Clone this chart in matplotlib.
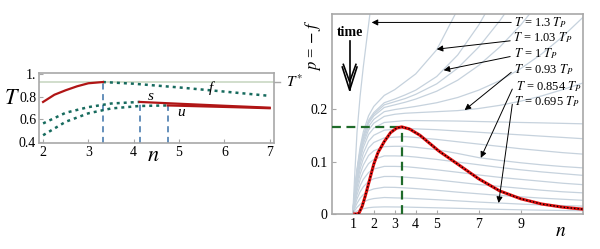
import matplotlib
matplotlib.use("Agg")
import matplotlib.pyplot as plt

plt.rcParams['font.family'] = ['Liberation Serif', 'DejaVu Serif']
plt.rcParams['mathtext.fontset'] = 'stix'

# ---------- left panel data ----------
red_a_n = [2.0, 2.25, 2.5, 2.75, 3.0, 3.32]
red_a_T = [0.756, 0.82, 0.86, 0.895, 0.922, 0.933]
f_n = [3.32, 4.0, 5.0, 6.0, 7.0]
f_T = [0.933, 0.918, 0.885, 0.848, 0.81]
s_dot_n = [2.0, 2.5, 3.0, 3.5, 4.13]
s_dot_T = [0.565, 0.66, 0.71, 0.742, 0.756]
u_dot_n = [2.0, 2.5, 3.0, 3.5, 4.13, 4.75]
u_dot_T = [0.46, 0.58, 0.655, 0.698, 0.72, 0.725]
s_red_n = [4.13, 5.0, 6.0, 7.0]
s_red_T = [0.756, 0.74, 0.722, 0.705]
u_red_n = [4.75, 5.5, 6.25, 7.0]
u_red_T = [0.725, 0.717, 0.709, 0.70]
T_star = 0.933
vlines_n = [3.32, 4.13, 4.75]
vlines_top = [0.933, 0.756, 0.725]

# ---------- right panel data ----------
n_grid = [1, 1.05, 1.1, 1.2, 1.35, 1.5, 1.75, 2, 2.5, 3, 3.5, 4, 5, 6, 7, 8, 9, 10, 11, 12]
p_c1 = [0, .002, .003, .0055, .008, .010, .012, .013, .0136, .0134, .0132, .0127, .0118, .0108, .0098, .0088, .008, .0073, .0067, .0063]
p_c2 = [0, .0038, .007, .0125, .0186, .0227, .0272, .0294, .0314, .0307, .0302, .0293, .0272, .025, .0227, .0208, .0189, .0173, .016, .015]
p_c3 = [0, .0062, .0114, .0203, .0302, .0369, .0442, .0478, .051, .0507, .0497, .0484, .0452, .0416, .0385, .0354, .0328, .0302, .0281, .026]
p_c4 = [0, .0088, .016, .0285, .0423, .0518, .0621, .0672, .0715, .0715, .0701, .0686, .065, .0606, .0562, .0526, .0489, .0453, .0423, .0402]
p_c5 = [0, .0112, .0205, .0363, .0539, .066, .079, .0856, .0907, .0907, .0902, .0884, .0842, .0795, .0744, .0698, .066, .0623, .0586, .0558]
p_c6 = [0, .0136, .0249, .0441, .0655, .0802, .096, .104, .1107, .1107, .1102, .1085, .104, .0989, .0938, .0887, .0842, .0802, .0768, .0735]
p_c7 = [0, .0157, .0288, .0511, .076, .093, .1114, .1205, .1284, .129, .129, .1271, .1225, .1153, .1074, .1022, .0976, .0937, .0904, .0878]
p_c8 = [0, .0178, .0326, .0577, .0858, .1051, .1258, .1362, .145, .1465, .1473, .1458, .1421, .1376, .1332, .1288, .1243, .1206, .1169, .114]
p_c9 = [0, .0196, .0359, .0636, .0945, .1157, .1386, .15, .1597, .1614, .163, .1622, .1606, .1581, .1557, .1532, .1508, .1483, .1459, .1434]
p_c10 = [0, .0214, .0392, .0694, .1032, .1264, .1513, .1638, .1744, .1762, .178, .178, .1776, .1771, .1762, .1753, .1744, .1736, .1727, .1718]
p_c11 = [0, .0226, .0414, .0733, .109, .1335, .16, .173, .186, .19, .192, .193, .195, .197, .201, .207, .215, .225, .237, .25]
p_c12 = [0, .0235, .0431, .0764, .1137, .1392, .1666, .1803, .195, .199, .202, .205, .212, .222, .236, .254, .277, .305, .338, .376]
p_c13 = [0, .0244, .0447, .0792, .1177, .1441, .1726, .1868, .203, .208, .213, .219, .234, .255, .283, .318, .36, .41, .465, .525]
p_c14 = [0, .0248, .0455, .0807, .12, .147, .176, .19, .208, .214, .22, .228, .248, .278, .318, .368, .425, .49, .56, .635]
p_c15 = [0, .0252, .0462, .0819, .1218, .1491, .1785, .1932, .212, .219, .227, .236, .262, .303, .36, .43, .51, .6, .7, .8]
p_c16 = [0, .0264, .0484, .0858, .1276, .1562, .187, .205, .226, .237, .252, .267, .313, .39, .48, .58, .68, .78, .88, .98]
p_c17 = [0, .04, .08, .155, .225, .28, .36, .44, .58, .72, .86, 1.0, 1.2, 1.4, 1.6, 1.8, 2.0, 2.2, 2.4, 2.6]
gray_curves = [p_c1, p_c2, p_c3, p_c4, p_c5, p_c6, p_c7, p_c8, p_c9, p_c10,
               p_c11, p_c12, p_c13, p_c14, p_c15, p_c16, p_c17]

red_n = [1.1, 1.2, 1.3, 1.45, 1.6, 1.8, 2.0, 2.2, 2.5, 2.8, 3.1, 3.33, 3.7, 4.2, 5.1, 6.0, 7.0, 8.0, 9.0, 10.0, 11.0, 12.0]
red_p = [0, 0, .002, .015, .035, .065, .095, .117, .138, .155, .164, .166, .162, .150, .120, .095, .067, .044, .029, .019, .013, .009]
peak_n = 3.33
peak_p = 0.166

labels = [r"$T$ = 1.3 $T_P$", r"$T$ = 1.03 $T_P$", r"$T$ = 1 $T_P$",
          r"$T$ = 0.93 $T_P$", r"$T$ = 0.854 $T_P$", r"$T$ = 0.695 $T_P$"]
label_xy = [(8.7, 0.365), (8.65, 0.336), (8.7, 0.306), (8.7, 0.275), (8.8, 0.243), (8.7, 0.214)]
tail_xy = [(8.55, 0.365), (8.5, 0.33), (8.5, 0.30), (8.55, 0.27), (8.6, 0.238), (8.6, 0.209)]
tip_xy = [(1.9, 0.365), (5.0, 0.314), (5.33, 0.274), (6.33, 0.198), (7.1, 0.107), (7.95, 0.021)]

frame = '#a8a8a8'

fig = plt.figure(figsize=(6.0, 2.49), dpi=100)

# ---------- left panel ----------
ax1 = fig.add_axes([0.065, 0.4257, 0.392, 0.281])
ax1.axhline(T_star, color='#c9d8c4', lw=1.2, zorder=1)
for xv, top in zip(vlines_n, vlines_top):
    ax1.plot([xv, xv], [0.39, top], color='#3b72a8', ls=(0, (4, 3)), lw=1.1, zorder=2)
ax1.plot(f_n, f_T, color='#176b5e', ls=(0, (1.2, 1.6)), lw=1.8, zorder=3)
ax1.plot(s_dot_n, s_dot_T, color='#176b5e', ls=(0, (1.2, 1.6)), lw=1.8, zorder=3)
ax1.plot(u_dot_n, u_dot_T, color='#176b5e', ls=(0, (1.2, 1.6)), lw=1.8, zorder=3)
ax1.plot(red_a_n, red_a_T, color='#b01515', lw=1.6, zorder=4)
ax1.plot(s_red_n, s_red_T, color='#b01515', lw=1.6, zorder=4)
ax1.plot(u_red_n, u_red_T, color='#b01515', lw=1.6, zorder=4)
ax1.set_xlim(1.91, 7.1)
ax1.set_ylim(0.391, 1.013)
ax1.set_xticks([2, 3, 4, 5, 6, 7])
ax1.set_yticks([0.4, 0.6, 0.8, 1.0])
ax1.set_yticklabels(['0.4', '0.6', '0.8', '1.'])
for sp in ax1.spines.values():
    sp.set_color(frame)
    sp.set_linewidth(1.2)
ax1.tick_params(direction='in', length=3, color=frame, labelsize=10, pad=2)
ax1.text(4.38, 0.80, 's', style='italic', fontsize=11, ha='center', va='center')
ax1.text(5.05, 0.66, 'u', style='italic', fontsize=11, ha='center', va='center')
ax1.text(5.7, 0.875, 'f', style='italic', fontsize=11, ha='center', va='center')
ax1.text(7.55, T_star, r'$T^{*}$', fontsize=11, ha='center', va='center')
ax1.plot([7.1, 7.22], [T_star, T_star], color=frame, lw=1, clip_on=False)
fig.text(0.02, 0.6, r'$T$', fontsize=16, ha='center', va='center')
fig.text(0.255, 0.37, r'$n$', fontsize=16, ha='center', va='center')

# ---------- right panel ----------
ax2 = fig.add_axes([0.553, 0.1406, 0.418, 0.803])
for pc in gray_curves:
    ax2.plot(n_grid, pc, color='#c6d2dd', lw=0.9, zorder=1)
ax2.plot([0, peak_n], [peak_p, peak_p], color='#1f6b2a', ls=(0, (4, 2.5)), lw=1.6, zorder=3)
ax2.plot([peak_n, peak_n], [0, peak_p], color='#1f6b2a', ls=(0, (4, 2.5)), lw=1.6, zorder=3)
ax2.plot(red_n, red_p, color='#e01010', lw=2.2, zorder=4)
ax2.plot(red_n, red_p, color='black', ls=(0, (1, 1.5)), lw=1.0, zorder=5)
for lab, lxy, txy, hxy in zip(labels, label_xy, tail_xy, tip_xy):
    ax2.text(lxy[0], lxy[1], lab, fontsize=9, ha='left', va='center', zorder=6)
    ax2.annotate('', xy=hxy, xytext=txy,
                 arrowprops=dict(arrowstyle='-|>', color='black', lw=0.7,
                                 mutation_scale=9, shrinkA=0, shrinkB=0), zorder=6)
ax2.text(0.85, 0.345, 'time', fontsize=10, fontweight='bold', ha='center', va='center')
ax2.plot([0.85, 0.85], [0.33, 0.236], color='black', lw=1.2)
ax2.plot([0.5, 0.85, 1.2], [0.28, 0.236, 0.28], color='black', lw=1.2)
ax2.plot([0.55, 0.85, 1.15], [0.285, 0.252, 0.285], color='black', lw=1.2)
ax2.set_xlim(0, 11.95)
ax2.set_ylim(0, 0.381)
ax2.set_xticks([1, 2, 3, 4, 5, 7, 9])
ax2.set_yticks([0, 0.1, 0.2])
ax2.set_yticklabels(['0', '0.1', '0.2'])
for sp in ax2.spines.values():
    sp.set_color(frame)
    sp.set_linewidth(1.2)
ax2.tick_params(direction='in', length=3, color=frame, labelsize=10, pad=3)
fig.text(0.522, 0.82, r'$p$ = $-$ $f$', fontsize=12, rotation=90, ha='center', va='center')
fig.text(0.935, 0.07, r'$n$', fontsize=14, ha='center', va='center')

fig.savefig('out.png', dpi=100)
